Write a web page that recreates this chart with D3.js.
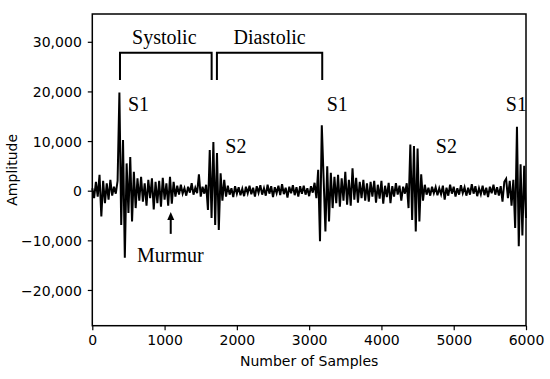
<!DOCTYPE html>
<html>
<head>
<meta charset="utf-8">
<script src="https://cdn.jsdelivr.net/npm/d3@7"></script>
<style>
  html, body { margin: 0; padding: 0; background: #fff; }
  svg { display: block; }
  .tick text { font-family: "DejaVu Sans", sans-serif; font-size: 14px; fill: #000; }
  .axis-title { font-family: "DejaVu Sans", sans-serif; font-size: 14px; fill: #000; }
  .note { font-family: "Liberation Serif", "Times New Roman", serif; font-size: 20px; fill: #000; }
</style>
</head>
<body>
<svg id="chart" width="550" height="379"></svg>
<script>
// Heart sound (PCG) trace: amplitude every SAMPLE_STEP samples.
const SAMPLE_STEP = 25;
const amplitude = [
  500, -1500, 1800, -1200, 3200, -5200, 2000, -2500, 1500, -1800,
  2200, -1000, 800, -600, 2000, 19800, -6900, 10200, -13500, 5500,
  -4500, 6800, -6200, 3800, -3500, 2500, -2000, 2800, -2200, 1500,
  -3000, 2200, -1500, 2500, -3800, 1800, -2500, 2000, -3200, 2600,
  -1800, 1500, -3000, 2800, -2600, 1800, -1200, 1000, -800, 1200,
  -600, 500, -1000, 800, -400, 1500, -800, 600, -500, 3300,
  -1200, 800, -600, 1200, -3900, 8200, -5500, 9800, -6900, 7600,
  -7900, 3500, -2000, 2200, -1200, 1000, -800, 500, -1300, 900,
  -600, 700, -900, 400, -1100, 800, -500, 1000, -700, 600,
  -1200, 900, -400, 1100, -800, 500, -1000, 1200, -600, 900,
  -1300, 700, -500, 1000, -900, 1300, -700, 600, -1400, 800,
  -500, 1100, -900, 700, -1200, 900, -600, 1000, -800, 500,
  -1100, 900, -400, 1600, -1500, 4200, -10200, 13200, 2500, -8200,
  4900, -6200, 3600, -3500, 2800, -2500, 3200, -3200, 2500, -2000,
  3800, -2800, 2200, -3000, 4500, -1800, 2600, -2400, 1800, -1500,
  2200, -2000, 1500, -2200, 1800, -1200, 2000, -2400, 1200, -1600,
  2000, -2600, 1000, -1300, 1600, -2500, 900, -1200, 1500, -800,
  1000, -2000, 800, -600, 1500, -3500, 9300, -5900, 9000, -8200,
  8500, -6200, 3300, -2000, 1200, -800, 600, -1000, 800, -500,
  700, -900, 500, -700, 1000, -1800, 600, -1000, 1200, -600,
  800, -1200, 500, -800, 1100, -500, 700, -1000, 600, -800,
  1300, -600, 900, -1100, 500, -700, 1000, -900, 600, -1300,
  800, -500, 1200, -800, 700, -1000, 900, -2200, 1800, 2400,
  -1500, 2000, -3000, 2200, -7500, 12900, -11200, 5300, -9000, 5000,
  -5500
];

const xTicks = [0, 1000, 2000, 3000, 4000, 5000, 6000];
const yTicks = [-20000, -10000, 0, 10000, 20000, 30000];

// cycle-phase brackets, in data units: [start sample, end sample]
const phaseNames = ["Systolic", "Diastolic"];
const phaseSpans = [[383, 1651], [1724, 3181]];
const BRACKET_TOP = 27800, BRACKET_FOOT = 22300;

// sound labels, placed in data units (left edge, baseline)
const soundLabels = ["S1", "S2", "S1", "S2", "S1", "Murmur"];
const soundX = [493, 1840, 3242, 4753, 5721, 618];
const soundY = [16000, 7500, 16000, 7500, 16000, -14300];
const murmurArrow = [1085, -4300, -8700]; // sample, tip amplitude, tail amplitude

const W = 550, H = 379;
const M = {left: 92.3, right: 24, top: 14, bottom: 53.3};
const x = d3.scaleLinear().domain([0, 6000]).range([M.left, W - M.right]);
const y = d3.scaleLinear().domain([-27200, 35600]).range([H - M.bottom, M.top]);

const svg = d3.select("#chart");

// trace
const line = d3.line().x((d, i) => x(i * SAMPLE_STEP)).y(d => y(d));
svg.append("path")
  .datum(amplitude)
  .attr("d", line)
  .attr("fill", "none")
  .attr("stroke", "#000")
  .attr("stroke-width", 2)
  .attr("stroke-linejoin", "miter");

// axes
const fmt = d3.format(",");
svg.append("g")
  .attr("transform", `translate(0,${H - M.bottom})`)
  .call(d3.axisBottom(x).tickValues(xTicks).tickFormat(d => String(d)).tickSize(4.5).tickPadding(5))
  .call(g => g.select(".domain").remove())
  .call(g => g.selectAll("line").attr("stroke-width", 1.2));
svg.append("g")
  .attr("transform", `translate(${M.left},0)`)
  .call(d3.axisLeft(y).tickValues(yTicks).tickFormat(fmt).tickSize(4.5).tickPadding(6))
  .call(g => g.select(".domain").remove())
  .call(g => g.selectAll("line").attr("stroke-width", 1.2))
  .call(g => g.selectAll("text").attr("dy", "0.36em"));

// frame
svg.append("rect")
  .attr("x", x(0)).attr("y", y(35600))
  .attr("width", x(6000) - x(0)).attr("height", y(-27200) - y(35600))
  .attr("fill", "none").attr("stroke", "#000").attr("stroke-width", 1.5);

svg.append("text").attr("class", "axis-title")
  .attr("x", (x(0) + x(6000)) / 2).attr("y", 366)
  .attr("text-anchor", "middle").text("Number of Samples");
svg.append("text").attr("class", "axis-title")
  .attr("transform", `translate(17,${(y(35600) + y(-27200)) / 2}) rotate(-90)`)
  .attr("text-anchor", "middle").text("Amplitude");

// phase brackets
phaseSpans.forEach((s, i) => {
  svg.append("path")
    .attr("d", `M${x(s[0])},${y(BRACKET_FOOT)}V${y(BRACKET_TOP)}H${x(s[1])}V${y(BRACKET_FOOT)}`)
    .attr("fill", "none").attr("stroke", "#000").attr("stroke-width", 2);
  svg.append("text").attr("class", "note")
    .attr("x", (x(s[0]) + x(s[1])) / 2 - (i === 0 ? 1.5 : 0)).attr("y", 43.5)
    .attr("text-anchor", "middle").text(phaseNames[i]);
});

// S1 / S2 / Murmur labels
soundLabels.forEach((t, i) => {
  svg.append("text").attr("class", "note")
    .attr("x", x(soundX[i])).attr("y", y(soundY[i])).text(t);
});

// murmur arrow
const ax = x(murmurArrow[0]), tipY = y(murmurArrow[1]), tailY = y(murmurArrow[2]);
svg.append("line").attr("x1", ax).attr("x2", ax).attr("y1", tipY + 6).attr("y2", tailY)
  .attr("stroke", "#000").attr("stroke-width", 2);
svg.append("path").attr("d", `M${ax},${tipY}L${ax - 3.5},${tipY + 8}L${ax + 3.5},${tipY + 8}Z`)
  .attr("fill", "#000");
</script>
</body>
</html>
